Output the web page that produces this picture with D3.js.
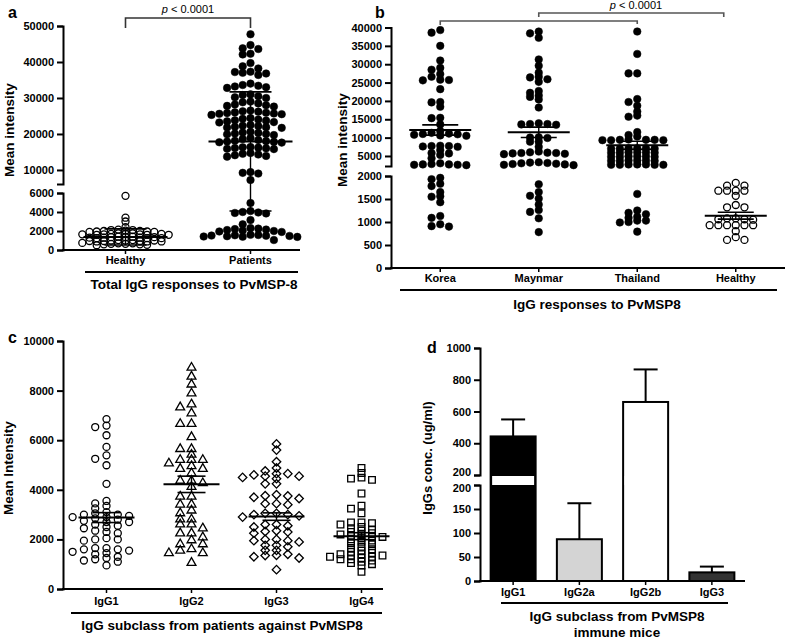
<!DOCTYPE html>
<html><head><meta charset="utf-8">
<script src="https://cdn.jsdelivr.net/npm/d3@7"></script>
<style>
body{margin:0;background:#fff}
svg{font-family:"Liberation Sans",Arial,Helvetica,sans-serif;display:block}
</style></head><body>
<svg id="chart" width="787" height="643"></svg>
<script>
// ---------------- DATA ----------------
// Panel a
const catsA = ["Healthy", "Patients"];
const healthyA = [5700, 3400, 3000, 2400, 2150, 2100, 2100, 2050, 2000, 2000, 1950, 1950, 1900, 1900,
  1750, 1750, 1700, 1700, 1700, 1650, 1650, 1650, 1600, 1600, 1600,
  1400, 1400, 1350, 1350, 1350, 1300, 1300, 1300, 1250, 1250, 1250,
  1050, 1050, 1000, 1000, 1000, 950, 950, 950, 900, 900, 900,
  750, 700, 700, 650, 650, 600, 600, 550, 500];
const patientsA = [47700, 44700, 43800, 43600, 42300, 42100, 39700, 38800, 38200, 37300, 37200, 37000, 36800, 36400,
  34000, 33600, 33400, 33200, 33000, 32800,
  31000, 30800, 30500, 30200, 30000,
  29000, 28800, 28500, 28200, 28000, 27800, 27600,
  26500, 26300, 26200, 26000, 25900, 25800, 25700, 25600, 25500, 25300,
  24400, 24200, 24000, 23800, 23700, 23500, 23300, 23200,
  22500, 22300, 22200, 22000, 21900, 21800, 21700,
  20600, 20400, 20300, 20100, 20000, 19900, 19700,
  18900, 18600, 18300, 18100, 18000, 17900, 17800, 17700, 17600,
  16400, 16300, 16200, 16100, 16000, 15900, 15800,
  14700, 14500, 14300, 14100, 13900, 13700,
  9400, 9200, 9000, 7200,
  4950, 4100, 4000, 3950, 3900, 3850, 3150, 2700,
  2300, 2250, 2200, 2150, 2100, 2050, 2000, 1950, 1900,
  1600, 1580, 1550, 1520, 1500, 1480, 1450, 1420, 1400, 1380, 1050];
const meanA = [1370, 17900];
const sdA = [850, 13800];
const ticksAUpper = [10000, 20000, 30000, 40000, 50000];
const ticksALower = [0, 2000, 4000, 6000];

// Panel b
const catsB = ["Korea", "Maynmar", "Thailand", "Healthy"];
const koreaB = [39300, 38600, 35000, 31000, 29000, 28500, 27300, 26600, 25800, 25700, 25600, 23200, 19700, 19600, 18400,
  15400, 15300, 13600, 11800, 11300, 11100, 11000, 10900, 10800, 10600, 10500, 7800, 7700, 7700, 7600, 7500,
  6600, 5800, 5700, 5300, 4400, 3000, 2800, 2700, 2700, 2600, 2600, 2500,
  1960, 1930, 1830, 1780, 1650, 1560, 1550, 1430, 1130, 1090, 950, 910, 900];
const maynmarB = [38900, 38400, 37200, 31300, 29600, 27700, 26600, 26400, 25900, 25200, 22700, 22200, 21500, 21100, 20400, 18200,
  13900, 13700, 13700, 13600, 13500, 10100, 10000, 9900, 8900, 8900, 7500,
  6200, 6000, 5900, 5800, 5800, 5700, 5600, 5500, 3300, 3200, 3100, 3000, 2900, 2800, 2700, 2600, 2500,
  1820, 1650, 1570, 1510, 1380, 1260, 1220, 1080, 780];
const thailandB = [38900, 32800, 27500, 27500, 20500, 19700, 18700, 17100, 16000, 15700, 11500, 10700, 10300,
  9500, 9400, 9400, 9400, 9300, 9300, 9300,
  7100, 7100, 7100, 7000, 7000, 7000,
  6000, 6000, 6000, 5900, 5900, 5900,
  4900, 4900, 4900, 4800, 4800, 4800,
  3800, 3800, 3800, 3700, 3700, 3700,
  2700, 2700, 2700, 2600, 2600, 2600, 2600,
  1610, 1250, 1200, 1170, 1115, 1090, 1030, 1030, 1000, 990, 790];
const healthyB = [1850, 1790, 1790, 1680, 1680, 1680, 1680, 1570, 1370, 1320, 1320,
  1080, 1080, 1060, 1060, 1050, 930, 930, 930, 930, 930, 930, 800, 670, 610, 610];
const meanB = [12080, 11450, 7910, 1137];
const semB = [1400, 1400, 1100, 75];
const ticksBUpper = [5000, 10000, 15000, 20000, 25000, 30000, 35000, 40000];
const ticksBLower = [0, 500, 1000, 1500, 2000];

// Panel c
const catsC = ["IgG1", "IgG2", "IgG3", "IgG4"];
const igg1C = [6850, 6590, 6530, 6200, 5730, 5390, 5250, 4990, 4240,
  3550, 3450, 3350, 3250, 3100, 3050, 3000, 3000, 2950, 2900, 2900, 2850, 2800, 2750, 2700, 2700, 2600, 2550, 2500, 2450, 2350, 2300, 2250,
  2050, 2000, 2000, 1950, 1650, 1650, 1600, 1600, 1550, 1500, 1450, 1400, 1300, 1250, 1200, 1150, 1100, 950];
const igg2C = [8960, 8600, 8280, 7920, 7480, 7360, 7120, 6690, 6690, 6160, 5680, 5680, 5450, 5240, 5240, 5240, 5100, 4990, 4880, 4880,
  4700, 4400, 4400, 4300, 4150, 3760, 3760, 3440, 3440, 3200, 3090, 2840, 2840, 2640, 2640, 2480, 2280, 2280, 2120, 2000,
  1840, 1840, 1640, 1580, 1480, 1480, 1090];
const igg3C = [5850, 5600, 5130, 4880, 4760, 4650, 4650, 4600, 4550, 4550, 4500, 4450, 4240, 4240,
  3800, 3760, 3750, 3700, 3650, 3440, 3440, 3400, 3050, 3050, 3000, 3000, 2950, 2900,
  2600, 2600, 2550, 2500, 2350, 2320, 2300, 2250, 2000, 2000, 1950, 1950, 1900, 1760, 1760, 1700,
  1560, 1560, 1400, 1360, 1350, 1300, 1250, 780];
const igg4C = [4880, 4680, 4490, 4450, 4400, 3850, 3360, 3240, 3050, 2680, 2680, 2650, 2600, 2500, 2450, 2400, 2350, 2300, 2250,
  2200, 2200, 2150, 2100, 2100, 2050, 2000, 1950, 1900, 1850, 1800, 1700, 1650, 1600, 1550, 1500, 1450, 1400, 1400,
  1350, 1350, 1300, 1300, 1250, 1200, 1200, 1150, 1100, 1050, 1000, 950, 690];
const meanC = [2880, 4220, 2920, 2130];
const semC = [200, 330, 150, 140];
const ticksC = [0, 2000, 4000, 6000, 8000, 10000];

// Panel d
const catsD = ["IgG1", "IgG2a", "IgG2b", "IgG3"];
const valuesD = [443, 87, 660, 18];
const errD = [107, 75, 205, 12];
const colorsD = ["#000000", "#d4d4d4", "#ffffff", "#333333"];
const ticksDUpper = [200, 400, 600, 800, 1000];
const ticksDLower = [0, 50, 100, 150, 200];

// ---------------- HELPERS ----------------
const FONT = '"Liberation Sans", Arial, Helvetica, sans-serif';
const svg = d3.select("#chart");

// Prism-like column swarm: discrete x slots, collision only within the same slot
function swarm(values, yf, cx, sp, dy) {
  const placed = [];
  return values.slice().sort((a, b) => b - a).map(v => {
    const y = yf(v);
    for (let j = 0; ; j++) {
      const k = j === 0 ? 0 : (j % 2 ? -Math.ceil(j / 2) : Math.ceil(j / 2));
      if (!placed.some(p => p.k === k && Math.abs(p.y - y) < dy)) {
        const p = { v, y, k, x: cx + k * sp };
        placed.push(p);
        return p;
      }
    }
  });
}

function yAxis(x, scale, ticks) {
  const g = svg.append("g").attr("transform", `translate(${x},0)`)
    .call(d3.axisLeft(scale).tickValues(ticks).tickSize(6).tickSizeOuter(6).tickPadding(3).tickFormat(d3.format("d")));
  g.select(".domain").attr("stroke", "#000").attr("stroke-width", 2).attr("fill", "none");
  g.selectAll(".tick line").attr("stroke", "#000").attr("stroke-width", 2);
  g.selectAll("text").attr("font-size", 11).attr("font-weight", "bold").attr("font-family", FONT).attr("fill", "#000");
  return g;
}

function xAxis(scale, y, x0, x1, pad) {
  const g = svg.append("g").attr("transform", `translate(0,${y})`)
    .call(d3.axisBottom(scale).tickSize(4).tickPadding(pad).tickSizeOuter(0));
  g.select(".domain").remove();
  g.selectAll(".tick line").attr("stroke", "#000").attr("stroke-width", 1.5);
  g.selectAll("text").attr("font-size", 11).attr("font-weight", "bold").attr("font-family", FONT).attr("fill", "#000");
  svg.append("line").attr("x1", x0).attr("x2", x1).attr("y1", y).attr("y2", y)
    .attr("stroke", "#000").attr("stroke-width", 2);
}

function text(x, y, s, size, opts = {}) {
  return svg.append("text").attr("x", x).attr("y", y).attr("font-size", size)
    .attr("font-family", FONT).attr("font-weight", opts.weight || "bold")
    .attr("text-anchor", opts.anchor || "middle").attr("fill", "#000").text(s);
}

function yLabel(x, y, s, size) {
  svg.append("text").attr("transform", `translate(${x},${y}) rotate(-90)`)
    .attr("text-anchor", "middle").attr("font-size", size).attr("font-weight", "bold")
    .attr("font-family", FONT).attr("fill", "#000").text(s);
}

function hline(x0, x1, y, w, color) {
  svg.append("line").attr("x1", x0).attr("x2", x1).attr("y1", y).attr("y2", y)
    .attr("stroke", color || "#000").attr("stroke-width", w);
}

function meanErr(cx, m, e, yf, wM, wE) {
  svg.append("line").attr("x1", cx).attr("x2", cx).attr("y1", yf(m + e)).attr("y2", yf(m - e))
    .attr("stroke", "#000").attr("stroke-width", 1.4);
  hline(cx - wE / 2, cx + wE / 2, yf(m + e), 1.6);
  hline(cx - wE / 2, cx + wE / 2, yf(m - e), 1.6);
  hline(cx - wM / 2, cx + wM / 2, yf(m), 2);
}

function drawPts(pts, shape, filled) {
  const g = svg.append("g");
  pts.forEach(p => {
    if (shape === "circle") {
      g.append("circle").attr("cx", p.x).attr("cy", p.y).attr("r", filled ? 3.8 : 3.5)
        .attr("fill", filled ? "#000" : "none").attr("stroke", "#000").attr("stroke-width", filled ? 0.5 : 1.3);
    } else {
      const sym = shape === "triangle" ? d3.symbolTriangle : d3.symbolSquare;
      const size = shape === "triangle" ? 34 : shape === "diamond" ? 36 : 44;
      const rot = shape === "diamond" ? 45 : 0;
      const dy = shape === "triangle" ? 0.8 : 0;
      g.append("path").attr("d", d3.symbol(sym, size)())
        .attr("transform", `translate(${p.x},${p.y + dy}) rotate(${rot})`)
        .attr("fill", "none").attr("stroke", "#000").attr("stroke-width", 1.3);
    }
  });
}

function bracket(x0, x1, yTop, yBot0, yBot1, color) {
  svg.append("path").attr("d", `M${x0},${yBot0}V${yTop}H${x1}V${yBot1}`)
    .attr("fill", "none").attr("stroke", color).attr("stroke-width", 1.6);
}

function pText(x, y) {
  const t = svg.append("text").attr("x", x).attr("y", y).attr("text-anchor", "middle")
    .attr("font-size", 11).attr("font-family", FONT).attr("fill", "#000");
  t.append("tspan").attr("font-style", "italic").text("p");
  t.append("tspan").text(" < 0.0001");
}

// ---------------- PANEL A ----------------
const yAU = d3.scaleLinear().domain([6100, 50000]).range([184, 26]);
const yAL = d3.scaleLinear().domain([0, 6000]).range([250, 193]);
const yA = v => (v >= 6050 ? yAU(v) : yAL(v));
const xA = d3.scaleBand().domain(catsA).range([63, 313]);
const cxA = c => xA(c) + xA.bandwidth() / 2;

drawPts(swarm(healthyA, yA, cxA("Healthy"), 7.2, 3.2), "circle", false);
drawPts(swarm(patientsA, yA, cxA("Patients"), 7.8, 6), "circle", true);
catsA.forEach((c, i) => meanErr(cxA(c), meanA[i], sdA[i], yA, 84, 42));
yAxis(63, yAU, ticksAUpper);
yAxis(63, yAL, ticksALower);
xAxis(xA, 250, 62, 300, 2);
hline(85, 298, 272, 2);
text(194, 289, "Total IgG responses to PvMSP-8", 13.5);
yLabel(14, 130, "Mean intensity", 13.5);
text(8, 18, "a", 16, { anchor: "start" });
bracket(cxA("Healthy"), cxA("Patients"), 18, 28, 28, "#333");
pText((cxA("Healthy") + cxA("Patients")) / 2, 13);

// ---------------- PANEL B ----------------
const yBU = d3.scaleLinear().domain([2270, 40000]).range([166, 27.5]);
const yBL = d3.scaleLinear().domain([0, 2000]).range([268, 176]);
const yB = v => (v > 2100 ? yBU(v) : yBL(v));
const xB = d3.scaleBand().domain(catsB).range([391, 785]);
const cxB = c => xB(c) + xB.bandwidth() / 2;
const seriesB = [koreaB, maynmarB, thailandB, healthyB];

seriesB.forEach((vals, i) => {
  drawPts(swarm(vals, yB, cxB(catsB[i]), 8.7, 3.8), "circle", i < 3);
});
catsB.forEach((c, i) => meanErr(cxB(c), meanB[i], semB[i], yB, 62, 36));
yAxis(391, yBU, ticksBUpper);
yAxis(391, yBL, ticksBLower);
xAxis(xB, 268, 390, 785, 2);
hline(400, 777, 290, 2);
text(597, 309, "IgG responses to PvMSP8", 13.5);
yLabel(347, 140, "Mean intensity", 13.5);
text(375, 18, "b", 16, { anchor: "start" });
bracket(cxB("Korea"), cxB("Thailand"), 21, 25, 24, "#555");
bracket(cxB("Maynmar"), cxB("Healthy") - 12, 13, 17, 17, "#555");
pText(636, 9);

// ---------------- PANEL C ----------------
const yC = d3.scaleLinear().domain([0, 10000]).range([589, 341]);
const xC = d3.scaleBand().domain(catsC).range([64, 404]);
const cxC = c => xC(c) + xC.bandwidth() / 2;
const seriesC = [igg1C, igg2C, igg3C, igg4C];
const shapesC = ["circle", "triangle", "diamond", "square"];

seriesC.forEach((vals, i) => {
  drawPts(swarm(vals, yC, cxC(catsC[i]), i === 3 ? 10.5 : 11.3, i === 3 ? 3.6 : 4.2), shapesC[i], false);
});
catsC.forEach((c, i) => meanErr(cxC(c), meanC[i], semC[i], yC, 56, 28));
yAxis(63, yC, ticksC);
xAxis(xC, 589, 62, 383, 4);
hline(71, 382, 613, 2);
text(222, 630, "IgG subclass from patients against PvMSP8", 13.5);
yLabel(13, 468, "Mean Intensity", 13.5);
text(8, 343, "c", 16, { anchor: "start" });

// ---------------- PANEL D ----------------
const yDU = d3.scaleLinear().domain([200, 1000]).range([475, 348]);
const yDL = d3.scaleLinear().domain([0, 200]).range([581, 485]);
const yD = v => (v > 200 ? yDU(v) : yDL(v));
const xD = d3.scaleBand().domain(catsD).range([480, 745]);
const cxD = c => xD(c) + xD.bandwidth() / 2;
const barW = 45, capW = 24;

catsD.forEach((c, i) => {
  const cx = cxD(c), v = valuesD[i], e = errD[i];
  svg.append("line").attr("x1", cx).attr("x2", cx).attr("y1", yD(v)).attr("y2", yD(v + e))
    .attr("stroke", "#000").attr("stroke-width", 2);
  hline(cx - capW / 2, cx + capW / 2, yD(v + e), 2);
  svg.append("rect").attr("x", cx - barW / 2).attr("y", yD(v)).attr("width", barW)
    .attr("height", yDL(0) - yD(v)).attr("fill", colorsD[i]).attr("stroke", "#000").attr("stroke-width", 2);
  if (v > 200) {
    svg.append("rect").attr("x", cx - barW / 2 + 1.5).attr("y", yDU(200) + 1)
      .attr("width", barW - 3).attr("height", yDL(200) - yDU(200) - 1).attr("fill", "#fff");
  }
});
const gDU = yAxis(480, yDU, ticksDUpper);
const gDL = yAxis(480, yDL, ticksDLower);
// nudge the two "200" labels at the axis break apart so they do not collide
gDU.selectAll(".tick").filter(d => d === 200).select("text").attr("dy", "0.05em");
gDL.selectAll(".tick").filter(d => d === 200).select("text").attr("dy", "0.62em");
xAxis(xD, 581, 479, 745, 3);
hline(501, 728, 603, 2);
text(617, 621, "IgG subclass from PvMSP8", 13.5);
text(617, 637, "immune mice", 13.5);
yLabel(432, 458, "IgGs conc. (ug/ml)", 13);
text(427, 353, "d", 16, { anchor: "start" });
</script>
</body></html>
